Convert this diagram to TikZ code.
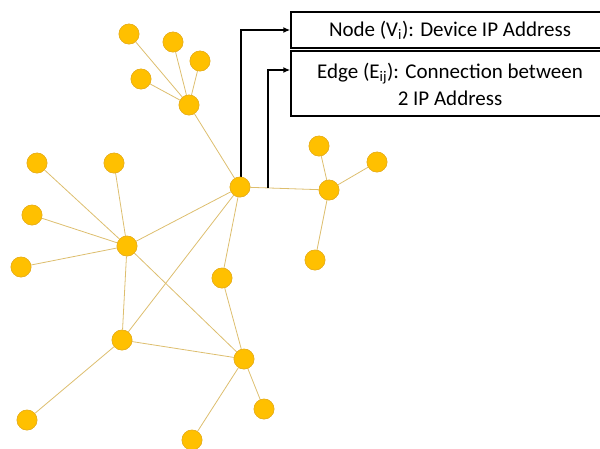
\documentclass[tikz,border=0pt]{standalone}
\usepackage{fontspec}
\setmainfont{Carlito}
\usetikzlibrary{arrows.meta}
\definecolor{nodefill}{HTML}{FFC000}
\definecolor{nodeline}{HTML}{E8B020}
\definecolor{edgecol}{HTML}{DDBE6E}
\begin{document}
\begin{tikzpicture}[x=1pt,y=-1pt,
  vtx/.style={circle,fill=nodefill,draw=nodeline,line width=0.6pt,minimum size=20pt,inner sep=0pt},
  edg/.style={draw=edgecol,line width=0.8pt},
  lbox/.style={draw=black,line width=1.4pt,fill=white},
  conn/.style={draw=black,line width=1.6pt,-{Latex[length=7pt,width=6pt]}}]
\useasboundingbox (0,0) rectangle (600,448);
\clip (0,0) rectangle (600,448);
% nodes
\node[vtx] (t1) at (129,34) {};
\node[vtx] (t2) at (173,42) {};
\node[vtx] (t3) at (200,61) {};
\node[vtx] (t4) at (141,79) {};
\node[vtx] (h1) at (189,105) {};
\node[vtx] (c) at (240,187) {};
\node[vtx] (L) at (127,246) {};
\node[vtx] (l1) at (37,163) {};
\node[vtx] (l2) at (114,163) {};
\node[vtx] (l3) at (32,215) {};
\node[vtx] (l4) at (21,267) {};
\node[vtx] (m) at (222,278) {};
\node[vtx] (B) at (122,340) {};
\node[vtx] (bl) at (27,420) {};
\node[vtx] (R) at (244,359) {};
\node[vtx] (r1) at (264,409) {};
\node[vtx] (r2) at (192,440) {};
\node[vtx] (H) at (329,190) {};
\node[vtx] (k1) at (319,146) {};
\node[vtx] (k2) at (377,162) {};
\node[vtx] (k3) at (315,260) {};
% edges
\foreach \a/\b in {t1/h1,t2/h1,t3/h1,t4/h1,h1/c,c/H,H/k1,H/k2,H/k3,c/L,c/B,c/m,L/l1,L/l2,L/l3,L/l4,L/B,L/R,m/R,B/R,B/bl,R/r1,R/r2}
  \path[edg] (\a) -- (\b);
% label boxes
\node[lbox,minimum width=318pt,minimum height=36pt,inner sep=0pt] (b1) at (450,30) {};
\node[lbox,minimum width=318pt,minimum height=65pt,inner sep=0pt] (b2) at (450,83.5) {};
\node[font=\fontsize{21}{26}\selectfont] (t1txt) at (450,30) {Node (V\textsubscript{i}): Device IP Address};
\node[font=\fontsize{21}{27}\selectfont,align=center] (t2txt) at (450,84) {Edge (E\textsubscript{ij}): Connection between\\2 IP Address};
% connectors
\coordinate (e1) at (268,188);
\draw[conn] (c.north -| 241,0) |- (b1.west);
\draw[conn] (e1) |- (b2.west |- 0,70);
% redraw nodes on top
\foreach \n in {t1,t2,t3,t4,h1,c,L,l1,l2,l3,l4,m,B,bl,R,r1,r2,H,k1,k2,k3}
  \node[vtx] at (\n) {};
\end{tikzpicture}
\end{document}
